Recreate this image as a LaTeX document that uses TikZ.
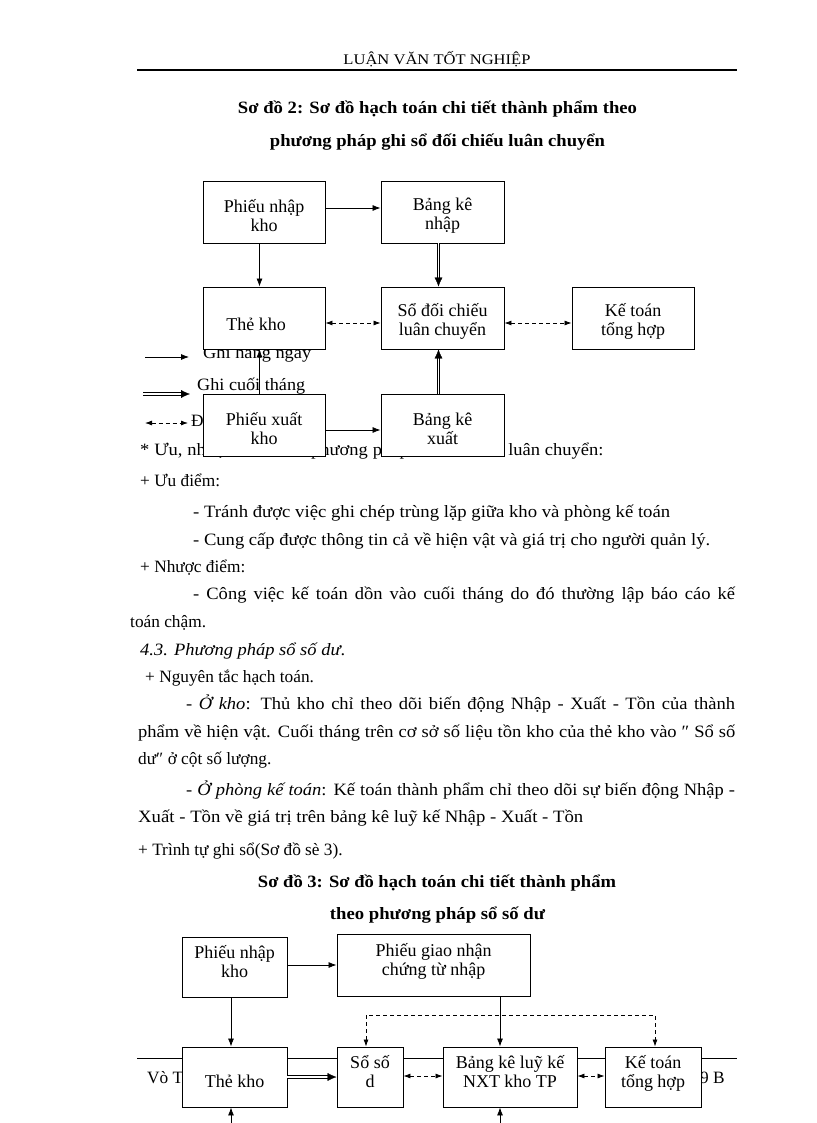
\documentclass[tikz,border=0pt]{standalone}
\usepackage{fontspec}
\usepackage{graphicx}
\setmainfont{Liberation Serif}
\usetikzlibrary{arrows.meta,calc}
\newcommand\bodysize{\fontsize{17.3}{20}\selectfont}
\newcommand\boxsize{\fontsize{18}{19}\selectfont}
\newcommand\lowpad{\rule[-12pt]{0pt}{0pt}}
\newcommand\tp{\rule{0pt}{20pt}}
\newcommand\wline[2]{\resizebox{#1}{\height}{#2}}
\newcommand\jline[2]{\scalebox{1.07}[1]{\makebox[#1][s]{#2}}}
\tikzset{
 box/.style={draw, line width=0.9pt, fill=white, align=center, inner sep=0pt, font=\boxsize},
 arr/.style={line width=0.8pt, -{Latex[length=8pt,width=6pt]}},
 dbl/.style={double, double distance=1.6pt, line width=0.8pt, shorten >=7pt},
 dbltip/.style={draw=white, line width=0.3pt, -{Latex[length=9pt,width=8pt,color=black]}},
 dsharr/.style={line width=0.8pt, dash pattern=on 4pt off 3pt, {Latex[length=7pt,width=5pt]}-{Latex[length=7pt,width=5pt]}},
 txt/.style={anchor=base west, inner sep=0pt, font=\bodysize},
 ttl/.style={anchor=base, inner sep=0pt, font=\bodysize\bfseries},
}
\newcommand\dblarrow[2]{\draw[dbl] #1 -- #2; \draw[dbltip] #1 -- #2;}
\begin{document}
\begin{tikzpicture}[x=1pt,y=-1pt]
\path[use as bounding box, fill=white] (0,0) rectangle (816,1123);

% header
\node[anchor=base, inner sep=0pt, font=\fontsize{14.7}{16}\selectfont] (hdr) at (437,65) {\wline{187pt}{LUẬN VĂN TỐT NGHIỆP}};
\coordinate (hl) at (137,70); \coordinate (hr) at (737,70);
\draw[line width=1.2pt] (hl) -- (hr);

% title 2
\node[ttl] (t2a) at (437.5,114) {\wline{399pt}{Sơ đồ 2: Sơ đồ hạch toán chi tiết thành phẩm theo}};
\node[ttl] (t2b) at (437.5,147) {\wline{335pt}{phương pháp ghi sổ đối chiếu luân chuyển}};

% legend (drawn under boxes)
\coordinate (l1a) at (145,357); \coordinate (l1b) at (189,357);
\draw[arr] (l1a) -- (l1b);
\node[txt] (lt1) at (203,358) {\scalebox{1.06}[1]{Ghi hàng ngày}};
\coordinate (l2a) at (143,394); \coordinate (l2b) at (190,394);
\dblarrow{(l2a)}{(l2b)}
\node[txt] (lt2) at (197,390) {\wline{108pt}{Ghi cuối tháng}};
\coordinate (l3a) at (145,423); \coordinate (l3b) at (188,423);
\draw[dsharr] (l3a) -- (l3b);
\node[txt] (lt3) at (191,426) {Đối chiếu kiểm tra};

% first text line (partly under boxes)
\node[txt] (p0) at (140,455) {\jline{433pt}{* Ưu, nhược điểm của phương pháp sổ đối chiếu luân chuyển:}};

% diagram 1 boxes
\node[box, minimum width=122pt, minimum height=62pt] (pnk) at (264,212) {\tp Phiếu nhập\\kho};
\node[box, minimum width=123pt, minimum height=62pt] (bkn) at (442.5,212) {\tp Bảng kê\\nhập};
\node[box, minimum width=122pt, minimum height=62pt] (tk) at (264,318) {\rule{0pt}{26pt}Thẻ kho\hspace*{16pt}};
\node[box, minimum width=123pt, minimum height=62pt] (sdc) at (442.5,318) {\tp Sổ đối chiếu\\luân chuyển};
\node[box, minimum width=122pt, minimum height=62pt] (kt) at (633,318) {\tp Kế toán\\tổng hợp};
\node[box, minimum width=122pt, minimum height=62pt] (pxk) at (264,425) {\tp Phiếu xuất\\kho};
\node[box, minimum width=123pt, minimum height=62pt] (bkx) at (442.5,425) {\tp Bảng kê\\xuất};

% diagram 1 connectors
\draw[arr] ([yshift=4pt]pnk.east) -- ([yshift=4pt]bkn.west);
\draw[arr] ([xshift=-4.5pt]pnk.south) -- ([xshift=-4.5pt]tk.north);
\dblarrow{([xshift=-4pt]bkn.south)}{([xshift=-4pt]sdc.north)}
\draw[dsharr] ([yshift=-5pt]tk.east) -- ([yshift=-5pt]sdc.west);
\draw[dsharr] ([yshift=-5pt]sdc.east) -- ([yshift=-5pt]kt.west);
\draw[arr] ([xshift=-4.5pt]pxk.north) -- ([xshift=-4.5pt]tk.south);
\draw[arr] ([yshift=-5pt]pxk.east) -- ([yshift=-5pt]bkx.west);
\dblarrow{([xshift=-4pt]bkx.north)}{([xshift=-4pt]sdc.south)}

% body text
\node[txt] (p1) at (140,486) {+ Ưu điểm:};
\node[txt] (p2) at (193,517) {\wline{477pt}{- Tránh được việc ghi chép trùng lặp giữa kho và phòng kế toán}};
\node[txt] (p3) at (193,545) {\wline{517pt}{- Cung cấp được thông tin cả về hiện vật và giá trị cho người quản lý.}};
\node[txt] (p4) at (140,572) {+ Nhược điểm:};
\node[txt] (p5) at (193,599) {\jline{506.5pt}{- Công việc kế toán dồn vào cuối tháng do đó thường lập báo cáo kế}};
\node[txt] (p6) at (130,627) {toán chậm.};
\node[txt] (p7) at (140,655) {\wline{205pt}{\textit{4.3. Phương pháp sổ số dư}.}};
\node[txt] (p8) at (145,682) {+ Nguyên tắc hạch toán.};
\node[txt] (p9) at (186,709) {\jline{513pt}{- \textit{Ở kho}: Thủ kho chỉ theo dõi biến động Nhập - Xuất - Tồn của thành}};
\node[txt] (p10) at (138,737) {\jline{558pt}{phẩm về hiện vật. Cuối tháng trên cơ sở số liệu tồn kho của thẻ kho vào ″ Sổ số}};
\node[txt] (p11) at (138,764) {dư″ ở cột số lượng.};
\node[txt] (p12) at (186,795) {\jline{513pt}{- \textit{Ở phòng kế toán}: Kế toán thành phẩm chỉ theo dõi sự biến động Nhập -}};
\node[txt] (p13) at (138,822) {\wline{445pt}{Xuất - Tồn về giá trị trên bảng kê luỹ kế Nhập - Xuất - Tồn}};
\node[txt] (p14) at (138,855) {+ Trình tự ghi sổ(Sơ đồ sè 3).};

% title 3
\node[ttl] (t3a) at (437,887) {\wline{358pt}{Sơ đồ 3: Sơ đồ hạch toán chi tiết thành phẩm}};
\node[ttl] (t3b) at (437.5,919) {\wline{215pt}{theo phương pháp sổ số dư}};

% footer (under boxes)
\coordinate (fl) at (137,1058); \coordinate (fr) at (737,1058);
\draw[line width=0.9pt] (fl) -- (fr);
\node[txt] (ft1) at (147,1083) {Vò Th};
\node[txt] (ft2) at (700,1083) {9 B};

% diagram 2 boxes
\node[box, minimum width=105pt, minimum height=60pt] (pnk2) at (234.5,967) {Phiếu nhập\\kho\lowpad};
\node[box, minimum width=193pt, minimum height=62pt] (pgn) at (433.5,965) {Phiếu giao nhận\\chứng từ nhập\lowpad};
\node[box, minimum width=105pt, minimum height=60pt] (tk2) at (234.5,1077) {\rule{0pt}{22pt}Thẻ kho};
\node[box, minimum width=66pt, minimum height=60pt] (ss) at (370,1077) {Sổ số\\d\lowpad};
\node[box, minimum width=134pt, minimum height=60pt] (bk) at (510,1077) {Bảng kê luỹ kế\\NXT kho TP\lowpad};
\node[box, minimum width=96pt, minimum height=60pt] (kt2) at (653,1077) {Kế toán\\tổng hợp\lowpad};

% diagram 2 connectors
\coordinate (a1) at ([yshift=2pt]pnk2.east);
\draw[arr] (a1) -- (a1 -| pgn.west);
\draw[arr] ([xshift=-3.5pt]pnk2.south) -- ([xshift=-3.5pt]tk2.north);
\coordinate (bkin) at ([xshift=-10pt]bk.north);
\draw[arr] (pgn.south -| bkin) -- (bkin);
\coordinate (ssn) at ([xshift=-4pt]ss.north);
\coordinate (ktn) at ([xshift=2pt]kt2.north);
\coordinate (dl) at (366,1015);
\draw[dsharr] (ssn) -- (dl) -| (ktn);
\dblarrow{(tk2.east)}{(ss.west)}
\draw[dsharr] ([yshift=1pt]ss.east) -- ([yshift=1pt]bk.west);
\draw[dsharr] ([yshift=1pt]bk.east) -- ([yshift=1pt]kt2.west);
\coordinate (b1) at (231,1123); \coordinate (b2) at (500,1123);
\draw[arr] (b1) -- (tk2.south -| b1);
\draw[arr] (b2) -- (bk.south -| b2);
\end{tikzpicture}
\end{document}
